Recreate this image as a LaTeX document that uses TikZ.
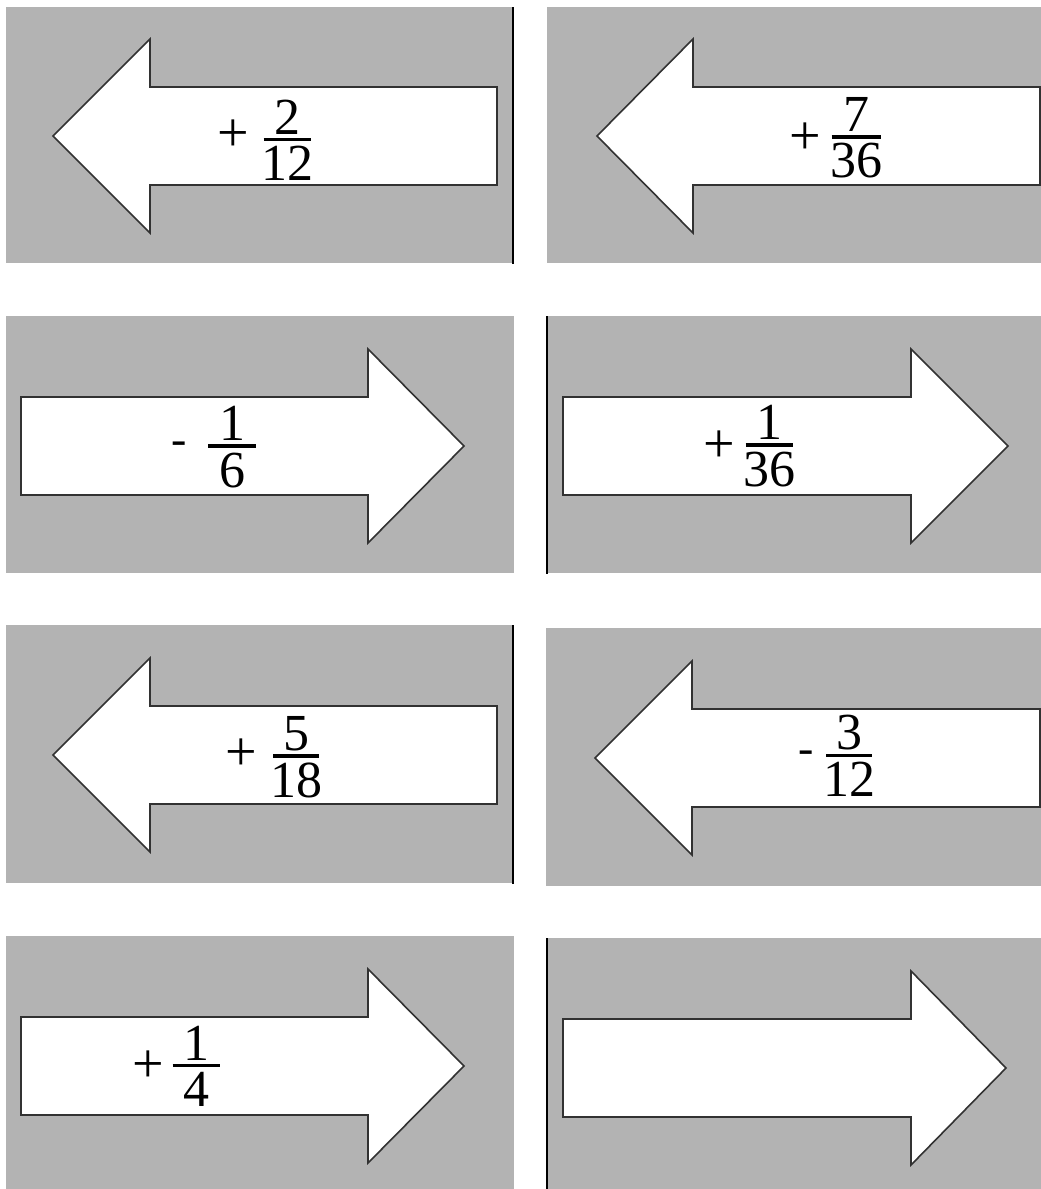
\documentclass[tikz,border=0pt]{standalone}
\usepackage{fontspec}
\setmainfont{Liberation Serif}
\definecolor{panelgray}{RGB}{179,179,179}
\definecolor{arrowline}{RGB}{50,50,50}
\newcommand{\stackfrac}[3][47pt]{\vbox{\hbox to #1{\hss #2\hss}\kern3.5pt\hrule height 3.5pt\kern5pt\hbox to #1{\hss #3\hss}}}
\begin{document}
\begin{tikzpicture}[x=1pt,y=-1pt,
  panel/.style={fill=panelgray,draw=none},
  arrowshape/.style={fill=white,draw=arrowline,line width=1.6pt,line join=miter},
  sepline/.style={draw=black,line width=2pt},
  fracnode/.style={font=\fontsize{52}{52}\selectfont,inner sep=0pt,anchor=center},
  plustxt/.style={font=\fontsize{56}{56}\selectfont,inner sep=0pt,anchor=center},
  minustxt/.style={font=\fontsize{46}{46}\selectfont,inner sep=0pt,anchor=center}]
\useasboundingbox (0,0) rectangle (1041,1189);
\fill[white] (0,0) rectangle (1041,1189);
% panels
\fill[panel] (6,7) rectangle (513,263);
\fill[panel] (547,7) rectangle (1041,263);
\fill[panel] (6,316) rectangle (514,573);
\fill[panel] (547,316) rectangle (1041,573);
\fill[panel] (6,625) rectangle (513,883);
\fill[panel] (546,628) rectangle (1041,886);
\fill[panel] (6,936) rectangle (514,1189);
\fill[panel] (547,938) rectangle (1041,1189);
% separator lines
\draw[sepline] (513,7) -- (513,264);
\draw[sepline] (547,316) -- (547,574);
\draw[sepline] (513,625) -- (513,884);
\draw[sepline] (547,938) -- (547,1189);
% arrows row 1
\draw[arrowshape] (53,136) -- (150,39) -- (150,87) -- (497,87) -- (497,185) -- (150,185) -- (150,233) -- cycle;
\draw[arrowshape] (597,136) -- (693,39) -- (693,87) -- (1040,87) -- (1040,185) -- (693,185) -- (693,233) -- cycle;
% arrows row 2
\draw[arrowshape] (464,446) -- (368,349) -- (368,397) -- (21,397) -- (21,495) -- (368,495) -- (368,543) -- cycle;
\draw[arrowshape] (1008,446) -- (911,349) -- (911,397) -- (563,397) -- (563,495) -- (911,495) -- (911,543) -- cycle;
% arrows row 3
\draw[arrowshape] (53,755) -- (150,658) -- (150,706) -- (497,706) -- (497,804) -- (150,804) -- (150,852) -- cycle;
\draw[arrowshape] (595,758) -- (692,661) -- (692,709) -- (1040,709) -- (1040,807) -- (692,807) -- (692,855) -- cycle;
% arrows row 4
\draw[arrowshape] (464,1066) -- (368,969) -- (368,1017) -- (21,1017) -- (21,1115) -- (368,1115) -- (368,1163) -- cycle;
\draw[arrowshape] (1006,1068) -- (911,971) -- (911,1019) -- (563,1019) -- (563,1117) -- (911,1117) -- (911,1165) -- cycle;
% labels
\node[plustxt] (s1) at (233,136) {+};
\node[fracnode] (f1) at (287,140) {\stackfrac{2}{12}};
\node[plustxt] (s2) at (805,139) {+};
\node[fracnode] (f2) at (856,138) {\stackfrac[49pt]{7}{36}};
\node[minustxt] (s3) at (179,448) {-};
\node[fracnode] (f3) at (232,447) {\stackfrac[48pt]{1}{6}};
\node[plustxt] (s4) at (719,447) {+};
\node[fracnode] (f4) at (769,446) {\stackfrac{1}{36}};
\node[plustxt] (s5) at (241,755) {+};
\node[fracnode] (f5) at (296,757) {\stackfrac[46pt]{5}{18}};
\node[minustxt] (s6) at (806,757) {-};
\node[fracnode] (f6) at (849,756) {\stackfrac[46pt]{3}{12}};
\node[plustxt] (s7) at (148,1067) {+};
\node[fracnode] (f7) at (196,1066) {\stackfrac{1}{4}};
\end{tikzpicture}
\end{document}
